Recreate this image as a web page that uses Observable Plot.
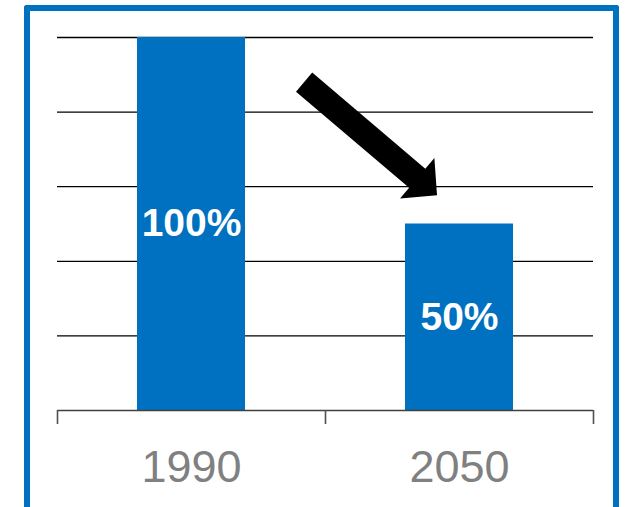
<!DOCTYPE html>
<html>
<head>
<meta charset="utf-8">
<script src="https://cdn.jsdelivr.net/npm/d3@7"></script>
<script src="https://cdn.jsdelivr.net/npm/@observablehq/plot@0.6"></script>
<style>
  html, body { margin: 0; padding: 0; background: #fff; overflow: hidden; }
  #page { position: relative; width: 625px; height: 507px; overflow: hidden; }
  #box {
    position: absolute; left: 24px; top: 5px; width: 583px; height: 600px;
    border: 6px solid #0070c0; border-bottom: none; border-radius: 3px 3px 0 0;
  }
  #chart { position: absolute; left: 0; top: 0; }
</style>
</head>
<body>
<div id="page">
  <div id="box"></div>
  <div id="chart"></div>
</div>
<script>
// Emissions relative to the 1990 level
const years = ["1990", "2050"];
const shares = [100, 50];
const gridValues = [20, 40, 60, 80, 100];

// Downward arrow annotation, in data units (x: category slot, y: percent)
const arrowTail = [0.922, 87.9];
const arrowTip = [1.418, 57.6];

const data = years.map((year, i) => ({year, i, value: shares[i]}));
const font = "'Liberation Sans', Arial, sans-serif";

function arrowMark(index, {x, y}) {
  const [x0, y0] = [x(arrowTail[0]), y(arrowTail[1])];
  const [x1, y1] = [x(arrowTip[0]), y(arrowTip[1])];
  const len = Math.hypot(x1 - x0, y1 - y0);
  const ux = (x1 - x0) / len, uy = (y1 - y0) / len;
  const nx = -uy, ny = ux;
  const shaft = 12.5, head = 26.5, headLen = 26;
  const bx = x1 - ux * headLen, by = y1 - uy * headLen;
  const pts = [
    [x0 + nx * shaft, y0 + ny * shaft],
    [bx + nx * shaft, by + ny * shaft],
    [bx + nx * head, by + ny * head],
    [x1, y1],
    [bx - nx * head, by - ny * head],
    [bx - nx * shaft, by - ny * shaft],
    [x0 - nx * shaft, y0 - ny * shaft]
  ];
  const g = d3.create("svg:g");
  g.append("polygon")
    .attr("points", pts.map(p => p.join(",")).join(" "))
    .attr("fill", "#000");
  return g.node();
}

const chart = Plot.plot({
  width: 625,
  height: 507,
  marginLeft: 57,
  marginRight: 32,
  marginTop: 37,
  marginBottom: 97,
  style: {background: "transparent", fontFamily: font},
  x: {domain: [0, years.length], axis: null, label: null},
  y: {domain: [0, 100], axis: null, label: null},
  marks: [
    Plot.ruleY(gridValues, {stroke: "#000", strokeWidth: 1.3}),
    Plot.rectY(data, {
      x1: "i",
      x2: d => d.i + 1,
      y: "value",
      insetLeft: 80,
      insetRight: 80,
      fill: "#0070c0"
    }),
    Plot.ruleY([0], {stroke: "#404040", strokeWidth: 1.6}),
    // category separators below the baseline
    Plot.axisX(d3.range(years.length + 1), {
      tickSize: 14,
      tickFormat: () => "",
      label: null,
      stroke: "#505050",
      strokeWidth: 1.6,
      strokeOpacity: 1
    }),
    Plot.text(data, {
      x: d => d.i + 0.5,
      y: d => d.value / 2,
      text: d => `${d.value}%`,
      fill: "#fff",
      fontWeight: "bold",
      fontSize: 39,
      fontFamily: font
    }),
    Plot.text(data, {
      x: d => d.i + 0.5,
      y: 0,
      dy: 57,
      text: "year",
      fill: "#808080",
      fontSize: 45,
      fontFamily: font
    }),
    arrowMark
  ]
});

document.getElementById("chart").append(chart);
</script>
</body>
</html>
